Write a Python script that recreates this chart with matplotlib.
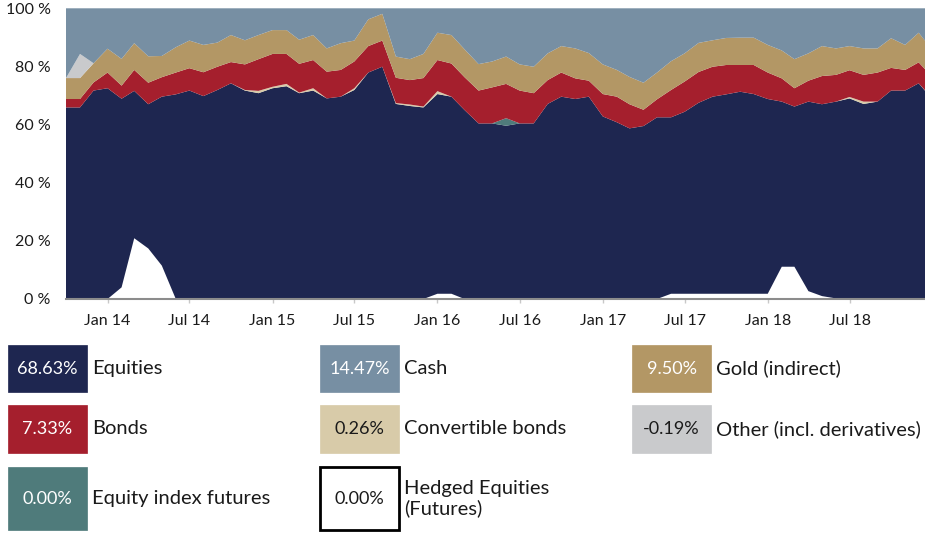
import matplotlib
matplotlib.use('Agg')
import matplotlib.pyplot as plt
import matplotlib.dates as mdates
from matplotlib.patches import Rectangle
import pandas as pd

plt.rcParams['font.family'] = ['Lato', 'DejaVu Sans']

# monthly asset allocation, Oct 2013 .. Jan 2019 (in %)
months = pd.date_range('2013-10-01', periods=64, freq='MS')

hedged = [0, 0, 0, 0, 4.0, 20.9, 17.4, 11.5, 0, 0,
          0, 0, 0, 0, 0, 0, 0, 0, 0, 0,
          0, 0, 0, 0, 0, 0, 0, 1.8, 1.8, 0,
          0, 0, 0, 0, 0, 0, 0, 0, 0, 0,
          0, 0, 0, 0, 1.8, 1.8, 1.8, 1.8, 1.8, 1.8,
          1.8, 1.8, 11.1, 11.1, 2.7, 1.0, 0.2, 0, 0, 0,
          0, 0, 0, 0]
equities = [65.9, 65.9, 71.7, 72.5, 64.9, 50.7, 49.6, 58.1, 70.4, 71.7,
            69.8, 71.9, 74.2, 71.7, 70.8, 72.5, 73.2, 70.8, 71.7, 69.0,
            69.6, 71.9, 77.9, 79.9, 67.1, 66.4, 65.9, 68.7, 67.8, 65.0,
            60.4, 60.4, 59.6, 60.4, 60.4, 67.1, 69.6, 68.8, 69.6, 62.8,
            60.8, 58.7, 59.5, 62.5, 60.7, 62.6, 65.7, 67.8, 68.6, 69.5,
            68.7, 67.0, 56.8, 55.1, 65.2, 66.0, 67.7, 69.0, 67.1, 67.9,
            71.7, 71.7, 74.2, 68.63]
futures = [0] * 32 + [2.6] + [0] * 31
convertibles = [0, 0, 0, 0, 0, 0, 0, 0, 0, 0,
                0, 0, 0, 0.2, 0.8, 0.5, 0.8, 0.2, 0.8, 0,
                0, 0.6, 0, 0, 0.3, 0.5, 0.3, 1.0, 0, 0,
                0, 0, 0, 0, 0, 0, 0, 0, 0, 0,
                0, 0, 0, 0, 0, 0, 0, 0, 0, 0,
                0, 0, 0, 0, 0, 0, 0, 0.5, 0.8, 0,
                0, 0, 0, 0.26]
bonds = [2.9, 2.9, 2.8, 5.4, 4.5, 7.2, 7.4, 6.7, 7.5, 7.7,
         8.2, 8.0, 7.3, 8.8, 10.9, 11.3, 10.3, 9.9, 9.7, 9.2,
         9.2, 9.2, 9.1, 9.0, 8.7, 8.4, 9.8, 10.7, 11.4, 11.3,
         11.3, 12.4, 11.8, 11.3, 10.4, 8.2, 8.3, 7.1, 5.5, 7.7,
         8.8, 8.3, 5.6, 6.2, 9.4, 10.4, 10.6, 10.3, 10.1, 9.2,
         10.0, 9.1, 8.0, 6.3, 7.2, 9.7, 9.2, 9.2, 9.2, 10.0,
         7.8, 7.1, 7.2, 7.33]
gold = [7.2, 7.2, 6.6, 8.2, 9.2, 9.2, 9.1, 7.3, 8.7, 9.5,
        9.4, 8.3, 9.3, 8.3, 8.3, 8.2, 8.2, 8.3, 8.6, 8.0,
        9.2, 7.2, 9.2, 9.2, 7.3, 7.2, 8.3, 9.4, 9.8, 9.6,
        9.1, 8.9, 9.4, 9.0, 9.1, 9.2, 9.1, 10.3, 9.5, 10.2,
        9.2, 9.4, 9.3, 9.2, 9.9, 9.7, 10.0, 9.1, 9.3, 9.4,
        9.4, 9.5, 9.6, 10.0, 9.4, 10.3, 9.1, 8.3, 9.1, 8.3,
        10.2, 8.6, 10.2, 9.50]
other = [0, 8.3] + [0] * 61 + [-0.19]
cash = [24.0, 15.7, 18.9, 13.9, 17.4, 12.0, 16.5, 16.4, 13.4, 11.1,
        12.6, 11.8, 9.2, 11.0, 9.2, 7.5, 7.5, 10.8, 9.2, 13.8,
        12.0, 11.1, 3.8, 1.9, 16.6, 17.5, 15.7, 8.4, 9.2, 14.1,
        19.2, 18.3, 16.6, 19.3, 20.1, 15.5, 13.0, 13.8, 15.4, 19.3,
        21.2, 23.6, 25.6, 22.1, 18.2, 15.5, 11.9, 11.0, 10.2, 10.1,
        10.1, 12.6, 14.5, 17.5, 15.5, 13.0, 13.8, 13.0, 13.8, 13.8,
        10.3, 12.6, 8.4, 14.47]

series = [hedged, equities, futures, convertibles, bonds, gold, other, cash]
colors = ['#ffffff', '#1e2650', '#4f7b7b', '#d8cba9', '#a51f2d',
          '#b39765', '#c9cacc', '#778fa3']

fig = plt.figure(figsize=(9.25, 5.33), dpi=100)
ax = fig.add_axes([66 / 925, 234 / 533, 859 / 925, 290.7 / 533])
ax.stackplot(months, *series, colors=colors, linewidth=0)

ax.set_ylim(0, 100)
ax.set_xlim(months[0], pd.Timestamp('2018-12-15'))
ax.set_yticks(range(0, 101, 20))
ax.set_yticklabels([f'{v} %' for v in range(0, 101, 20)])
ax.xaxis.set_major_locator(mdates.MonthLocator(bymonth=[1, 7]))
ax.xaxis.set_major_formatter(mdates.DateFormatter('%b %y'))
ax.tick_params(axis='y', length=0, pad=11, labelsize=11.5, labelcolor='#1a1a1a')
ax.tick_params(axis='x', length=3, width=1, color='#c8c8c8', pad=8,
               labelsize=11.5, labelcolor='#1a1a1a')
for side in ('left', 'right', 'top'):
    ax.spines[side].set_visible(False)
ax.spines['bottom'].set_color('#8c8c8c')
ax.spines['bottom'].set_linewidth(1.5)

# legend boxes with latest values
legend = [
    ('Equities', equities, '#1e2650', 'white', None, 0, 0),
    ('Cash', cash, '#778fa3', 'white', None, 1, 0),
    ('Gold (indirect)', gold, '#b39765', 'white', None, 2, 0),
    ('Bonds', bonds, '#a51f2d', 'white', None, 0, 1),
    ('Convertible bonds', convertibles, '#d8cba9', '#1a1a1a', None, 1, 1),
    ('Other (incl. derivatives)', other, '#c9cacc', '#1a1a1a', None, 2, 1),
    ('Equity index futures', futures, '#4f7b7b', 'white', None, 0, 2),
    ('Hedged Equities\n(Futures)', hedged, '#ffffff', '#1a1a1a', 'black', 1, 2),
]
col_x = [8, 320, 632]
row_top = [345, 405, 467]
row_h = [47, 48, 63]
W, H = 925, 533
for label, vals, fc, tc, ec, col, row in legend:
    x0, y0, h = col_x[col], row_top[row], row_h[row]
    rect = Rectangle((x0 / W, 1 - (y0 + h) / H), 79 / W, h / H,
                     transform=fig.transFigure, facecolor=fc,
                     edgecolor=ec if ec else fc, linewidth=2 if ec else 0.5)
    fig.patches.append(rect)
    yc = 1 - (y0 + h / 2) / H
    fig.text((x0 + 39.5) / W, yc, f'{vals[-1]:.2f}%', color=tc, fontsize=13,
             ha='center', va='center')
    fig.text((x0 + 84) / W, yc, label, color='#1a1a1a', fontsize=14.5,
             ha='left', va='center', linespacing=1.15)

fig.savefig('out.png', dpi=100)
